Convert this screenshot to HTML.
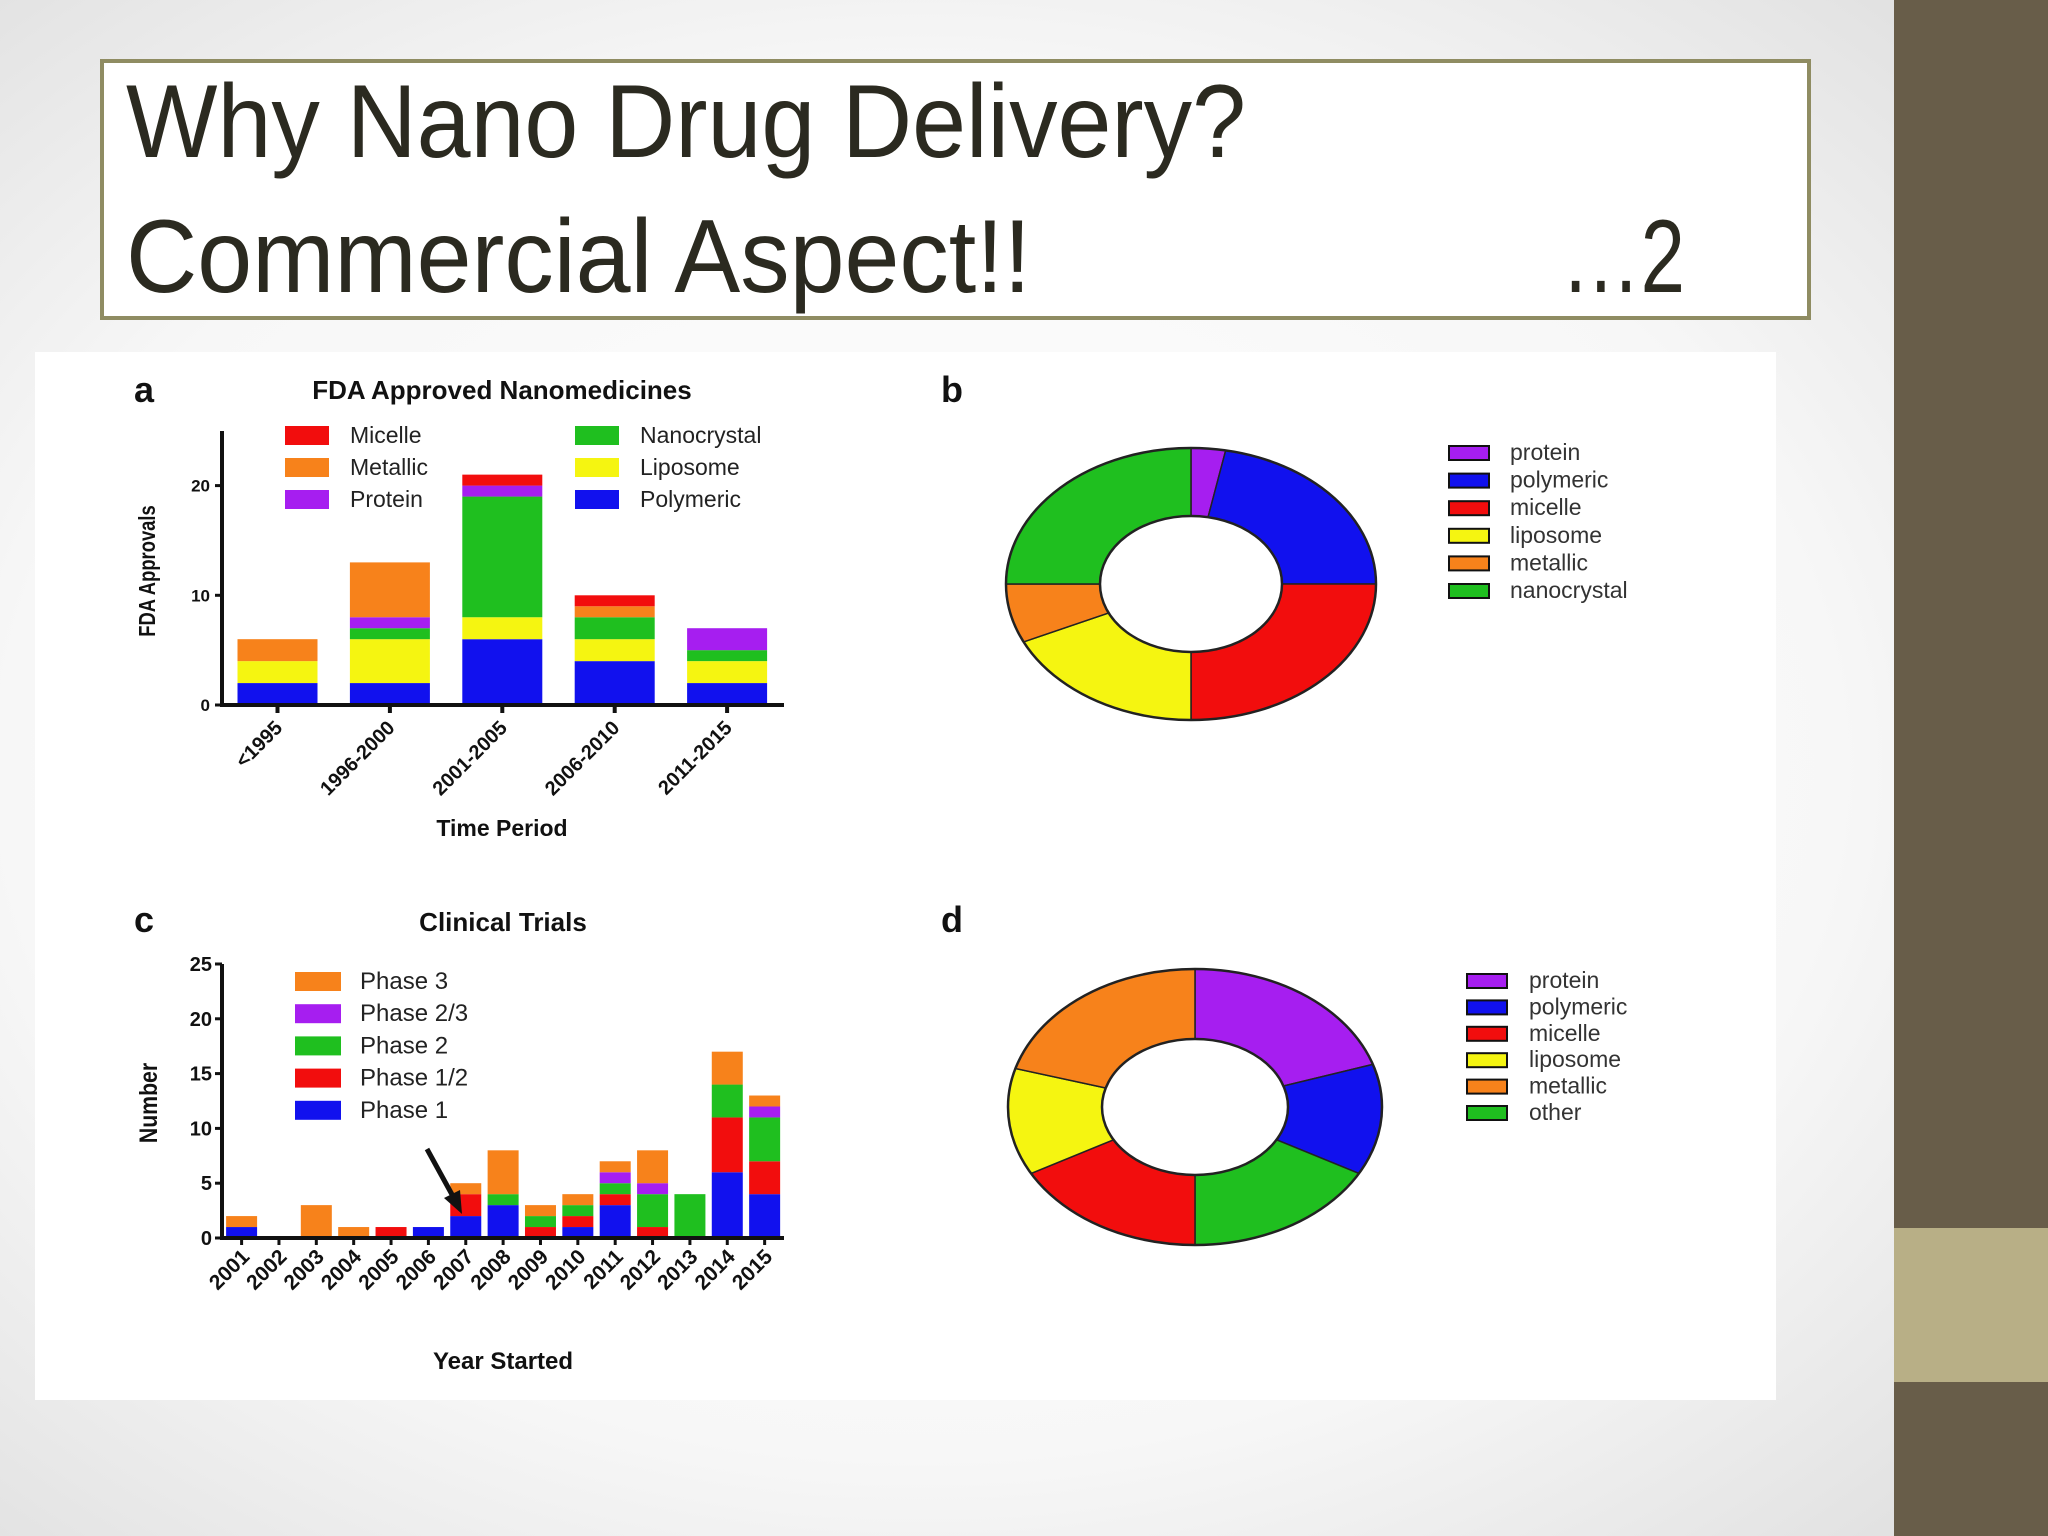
<!DOCTYPE html>
<html><head><meta charset="utf-8"><title>Why Nano Drug Delivery</title>
<style>
html,body{margin:0;padding:0;width:2048px;height:1536px;overflow:hidden}
svg{display:block;font-family:"Liberation Sans",sans-serif}
</style></head>
<body>
<svg id="s" width="2048" height="1536" viewBox="0 0 2048 1536">
<defs>
<radialGradient id="bg" cx="0.45" cy="0.5" r="0.75">
<stop offset="0" stop-color="#ffffff"/><stop offset="0.6" stop-color="#f7f7f7"/><stop offset="1" stop-color="#dcdcdc"/>
</radialGradient>
</defs>
<rect width="2048" height="1536" fill="url(#bg)"/>
<rect x="1894" y="0" width="154" height="1536" fill="#685d49"/>
<rect x="1894" y="1228" width="154" height="154" fill="#b8af86"/>
<rect x="35" y="352" width="1741" height="1048" fill="#ffffff"/>
<rect x="102" y="61" width="1707" height="257" fill="#ffffff" stroke="#8f8c62" stroke-width="4"/>
<text x="126" y="157" font-size="104" fill="#2b2a20" textLength="1120" lengthAdjust="spacingAndGlyphs">Why Nano Drug Delivery?</text>
<text x="126" y="292" font-size="104" fill="#2b2a20" textLength="905" lengthAdjust="spacingAndGlyphs">Commercial Aspect!!</text>
<text x="1561" y="292" font-size="104" fill="#2b2a20" textLength="124" lengthAdjust="spacingAndGlyphs">…2</text>
<g id="g"></g>
</svg>
<script>
// Chart a data
const aCats = ['<1995','1996-2000','2001-2005','2006-2010','2011-2015'];
const aPoly = [2,2,6,4,2];
const aLipo = [2,4,2,2,2];
const aNano = [0,1,11,2,1];
const aProt = [0,1,1,0,2];
const aMeta = [2,5,0,1,0];
const aMice = [0,0,1,1,0];
const aTicks = [0,10,20];
// Chart c data
const cYears = ['2001','2002','2003','2004','2005','2006','2007','2008','2009','2010','2011','2012','2013','2014','2015'];
const cP1  = [1,0,0,0,0,1,2,3,0,1,3,0,0,6,4];
const cP12 = [0,0,0,0,1,0,2,0,1,1,1,1,0,5,3];
const cP2  = [0,0,0,0,0,0,0,1,1,1,1,3,4,3,4];
const cP23 = [0,0,0,0,0,0,0,0,0,0,1,1,0,0,1];
const cP3  = [1,0,3,1,0,0,1,4,1,1,1,3,0,3,1];
const cTicks = [0,5,10,15,20,25];
// Donut b
const bLabels = ['protein','polymeric','micelle','liposome','metallic','nanocrystal'];
const bValues = [3,22,25,18,7,25];
// Donut d (drawing order clockwise)
const dLabels = ['protein','polymeric','other','micelle','liposome','metallic'];
const dValues = [20,13,17,17,12.5,20.5];
const dLegend = ['protein','polymeric','micelle','liposome','metallic','other'];

const C = {red:'#f20d0d',orange:'#f7821b',purple:'#a61ef0',green:'#1fbf1f',yellow:'#f5f511',blue:'#1111ee'};
const NS='http://www.w3.org/2000/svg';
const G=document.getElementById('g');
function mk(t,a,p){const e=document.createElementNS(NS,t);for(const k in a)e.setAttribute(k,a[k]);(p||G).appendChild(e);return e;}
function txt(x,y,s,size,extra){const e=mk('text',Object.assign({x:x,y:y,'font-size':size,fill:'#111'},extra||{}));e.textContent=s;return e;}

// ===== Chart a =====
const aX0=222,aY0=705,aPU=10.97,aStep=112.4,aFirst=277.5,aW=80;
const ay=v=>aY0-v*aPU, ax=i=>aFirst+i*aStep;
let t;
t=txt(134,402,'a',36,{'font-weight':'bold'});

t=txt(502,399,'FDA Approved Nanomedicines',26,{'font-weight':'bold','text-anchor':'middle'});

const aSeries=[[aPoly,C.blue,'polymeric'],[aLipo,C.yellow,'liposome'],[aNano,C.green,'nanocrystal'],[aProt,C.purple,'protein'],[aMeta,C.orange,'metallic'],[aMice,C.red,'micelle']];
aCats.forEach((c,i)=>{let base=0;aSeries.forEach(s=>{const v=s[0][i];if(v>0){const r=mk('rect',{x:ax(i)-aW/2,y:ay(base+v),width:aW,height:v*aPU,fill:s[1]});

}base+=v;});
const tk=mk('line',{x1:ax(i),x2:ax(i),y1:aY0,y2:aY0+8,stroke:'#111','stroke-width':4});

const l=txt(0,0,c,20,{'font-weight':'bold','text-anchor':'end',transform:'translate('+(ax(i)+6)+','+(aY0+24)+') rotate(-45)'});
});
aTicks.forEach(v=>{const tk=mk('line',{x1:aX0-7,x2:aX0,y1:ay(v),y2:ay(v),stroke:'#111','stroke-width':3});

const l=txt(aX0-12,ay(v)+6,String(v),17,{'font-weight':'bold','text-anchor':'end'});
});
let ln=mk('line',{x1:aX0,x2:aX0,y1:431,y2:aY0+2,stroke:'#111','stroke-width':4});
ln=mk('line',{x1:aX0-2,x2:784,y1:aY0,y2:aY0,stroke:'#111','stroke-width':4});
t=txt(0,0,'FDA Approvals',23,{'font-weight':'bold','text-anchor':'middle',transform:'translate(155,571) rotate(-90) scale(0.8,1)'});

t=txt(502,836,'Time Period',23,{'font-weight':'bold','text-anchor':'middle'});

const aLeg=[['Micelle',C.red,285,435],['Metallic',C.orange,285,467],['Protein',C.purple,285,499],['Nanocrystal',C.green,575,435],['Liposome',C.yellow,575,467],['Polymeric',C.blue,575,499]];
aLeg.forEach(e=>{const r=mk('rect',{x:e[2],y:e[3]-9,width:44,height:19,fill:e[1]});

const l=txt(e[2]+65,e[3]+8,e[0],23,{fill:'#222'});
});

// ===== Chart c =====
const cX0=222,cY0=1238,cPU=10.96,cStep=37.36,cFirst=241.6,cW=31;
const cy=v=>cY0-v*cPU, cx=i=>cFirst+i*cStep;
t=txt(134,932,'c',36,{'font-weight':'bold'});

t=txt(503,931,'Clinical Trials',26,{'font-weight':'bold','text-anchor':'middle'});

const cSeries=[[cP1,C.blue,'phase1'],[cP12,C.red,'phase1-2'],[cP2,C.green,'phase2'],[cP23,C.purple,'phase2-3'],[cP3,C.orange,'phase3']];
cYears.forEach((c,i)=>{let base=0;cSeries.forEach(s=>{const v=s[0][i];if(v>0){const r=mk('rect',{x:cx(i)-cW/2,y:cy(base+v),width:cW,height:v*cPU,fill:s[1]});

}base+=v;});
const tk=mk('line',{x1:cx(i),x2:cx(i),y1:cY0,y2:cY0+7,stroke:'#111','stroke-width':3});

const l=txt(0,0,c,21,{'font-weight':'bold','text-anchor':'end',transform:'translate('+(cx(i)+9)+','+(cY0+20)+') rotate(-45)'});
});
cTicks.forEach(v=>{const tk=mk('line',{x1:cX0-7,x2:cX0,y1:cy(v),y2:cy(v),stroke:'#111','stroke-width':3});

const l=txt(cX0-10,cy(v)+7,String(v),20,{'font-weight':'bold','text-anchor':'end'});
});
ln=mk('line',{x1:cX0,x2:cX0,y1:cy(25),y2:cY0+2,stroke:'#111','stroke-width':4});
ln=mk('line',{x1:cX0-2,x2:784,y1:cY0,y2:cY0,stroke:'#111','stroke-width':4});
t=txt(0,0,'Number',25,{'font-weight':'bold','text-anchor':'middle',transform:'translate(157,1103) rotate(-90) scale(0.85,1)'});

t=txt(503,1369,'Year Started',24,{'font-weight':'bold','text-anchor':'middle'});

const cLeg=[['Phase 3',C.orange],['Phase 2/3',C.purple],['Phase 2',C.green],['Phase 1/2',C.red],['Phase 1',C.blue]];
cLeg.forEach((e,i)=>{const y=981+i*32.2;const r=mk('rect',{x:295,y:y-9,width:46,height:19,fill:e[1]});

const l=txt(360,y+8,e[0],24,{fill:'#222'});
});
ln=mk('line',{x1:427,y1:1149,x2:455,y2:1200,stroke:'#111','stroke-width':5});

ln=mk('polygon',{points:'462,1214 444,1198 460,1190',fill:'#111'});


// ===== Donuts =====
const colorMap={protein:C.purple,polymeric:C.blue,micelle:C.red,liposome:C.yellow,metallic:C.orange,nanocrystal:C.green,other:C.green};
function donut(cx0,cy0,rx,ry,irx,iry,labels,values,name){const tot=values.reduce((a,b)=>a+b,0);let acc=0;
const pt=(a,X,Y)=>[cx0+X*Math.sin(a),cy0-Y*Math.cos(a)];
labels.forEach((lab,i)=>{const a0=acc/tot*2*Math.PI;acc+=values[i];const a1=acc/tot*2*Math.PI;const lg=(a1-a0)>Math.PI?1:0;
const p0=pt(a0,rx,ry),p1=pt(a1,rx,ry),q1=pt(a1,irx,iry),q0=pt(a0,irx,iry);
const d='M'+p0+' A'+rx+','+ry+' 0 '+lg+' 1 '+p1+' L'+q1+' A'+irx+','+iry+' 0 '+lg+' 0 '+q0+' Z';
const s=mk('path',{d:d,fill:colorMap[lab],stroke:'#222','stroke-width':1.5});

});
const o=mk('ellipse',{cx:cx0,cy:cy0,rx:rx,ry:ry,fill:'none',stroke:'#222','stroke-width':2.5});
const o2=mk('ellipse',{cx:cx0,cy:cy0,rx:irx,ry:iry,fill:'#fff',stroke:'#222','stroke-width':2.5});}
donut(1191,584,185,136,91,68,bLabels,bValues,'donut-b');
donut(1195,1107,187,138,93,68,dLabels,dValues,'donut-d');
t=txt(941,402,'b',36,{'font-weight':'bold'});
t=txt(941,932,'d',36,{'font-weight':'bold'});
bLabels.forEach((lab,i)=>{const y=453+i*27.6;const r=mk('rect',{x:1449,y:y-7,width:40,height:14,fill:colorMap[lab],stroke:'#111','stroke-width':2});

const l=txt(1510,y+7,lab,23,{fill:'#333'});
});
dLegend.forEach((lab,i)=>{const y=981+i*26.4;const r=mk('rect',{x:1467,y:y-7,width:40,height:14,fill:colorMap[lab],stroke:'#111','stroke-width':2});

const l=txt(1529,y+7,lab,23,{fill:'#333'});
});
</script>
</body></html>
